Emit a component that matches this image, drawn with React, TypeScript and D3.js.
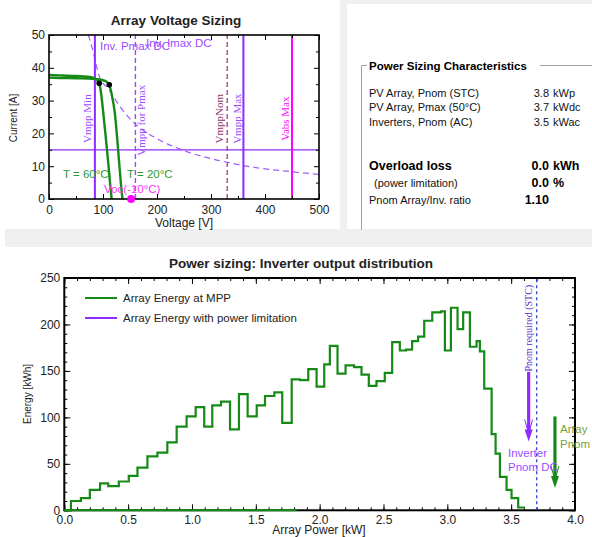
import React, { useEffect, useRef } from "react";
import * as d3 from "d3";

const W = 592;
const H = 537;
const SANS = "Liberation Sans, Arial, sans-serif";
const SERIF = "Liberation Serif, Times New Roman, serif";

// ---- Array Voltage Sizing (top left) ----
const voltMajor = [0, 100, 200, 300, 400, 500];
const voltMinor = [50, 150, 250, 350, 450];
const ampMajor = [0, 10, 20, 30, 40, 50];
const ampMinor = [5, 15, 25, 35, 45];

const iv60Volt = [0, 20, 50, 80, 87, 93, 97, 100.6, 105, 109.8, 113, 116];
const iv60Amp = [37.8, 37.7, 37.5, 37.1, 36.5, 35.3, 31.5, 26.1, 19, 10.9, 5, 0];
const iv20Volt = [0, 20, 50, 85, 100, 107, 111.7, 116, 122, 126, 130, 133, 136];
const iv20Amp = [37.0, 36.9, 36.8, 36.6, 36.2, 35.7, 34.8, 32, 26.1, 19, 10.9, 5, 0];
const mppVolt = [93, 111.7];
const mppAmp = [35.3, 34.8];
const vocCold = 152;

const pmaxVolt = [73, 80, 94, 110, 130, 160, 200, 246, 300, 330, 360, 400, 450, 500];
const pmaxAmp = [50, 46, 37, 33.6, 28.5, 22.8, 18.4, 15, 12.3, 11.2, 10.2, 9.2, 8.3, 7.5];
const invImaxDc = 15;
const vmppMin = 85;
const vmppForPmax = 160;
const vmppNom = 330;
const vmppMax = 360;
const vabsMax = 450;

// ---- Power Sizing Characteristics (top right) ----
const infoLabels = ["PV Array, Pnom (STC)", "PV Array, Pmax (50°C)", "Inverters, Pnom (AC)"];
const infoValues = ["3.8", "3.7", "3.5"];
const infoUnits = ["kWp", "kWdc", "kWac"];

// ---- Inverter output distribution (bottom) ----
const powerMajor = [0, 0.5, 1, 1.5, 2, 2.5, 3, 3.5, 4];
const energyMajor = [0, 50, 100, 150, 200, 250];
const binEdges = [
  0.052, 0.13, 0.2, 0.28, 0.344, 0.427, 0.505, 0.573, 0.651, 0.729, 0.807, 0.88, 0.958, 1.029,
  1.096, 1.159, 1.227, 1.298, 1.368, 1.436, 1.507, 1.572, 1.645, 1.707, 1.781, 1.846, 1.911,
  1.976, 2.036, 2.08, 2.14, 2.203, 2.27, 2.328, 2.385, 2.445, 2.51, 2.568, 2.628, 2.676, 2.724,
  2.771, 2.819, 2.882, 2.95, 2.981, 3.028, 3.08, 3.124, 3.177, 3.229, 3.255, 3.289, 3.347,
  3.378, 3.412, 3.464, 3.503, 3.555, 3.607,
];
const energyMpp = [
  10, 13, 22, 29, 26, 31, 37, 46, 58, 62, 73, 90, 101, 111, 90, 113, 117, 87, 125, 101, 113,
  123, 127, 94, 141, 140, 152, 133, 157, 177, 147, 156, 154, 146, 134, 139, 148, 181, 172, 173,
  182, 187, 204, 213, 214, 172, 218, 195, 213, 176, 182, 171, 131, 82, 61, 36, 22, 13, 3,
];
const mppBaselineEnd = 1.82;
const pnomRequired = 3.7;
const invArrowPower = 3.637;
const invArrowEnergy = [149, 74];
const arrayArrowPower = 3.843;
const arrayArrowEnergy = [101, 24];

const PURPLE = "#8f2bff";
const GREEN = "#168a16";

function frame(g: any, x: any, y: any, o: any) {
  const [x0, x1] = x.range();
  const [y0, y1] = y.range();
  const style = (sel: any) => {
    sel.select(".domain").remove();
    sel.selectAll("line").attr("stroke", "#000");
    sel.selectAll("text").attr("font-family", SANS).attr("font-size", o.fontSize).attr("fill", "#222");
  };
  g.append("g").attr("transform", `translate(0,${y0})`)
    .call(d3.axisBottom(x).tickValues(o.xMajor).tickSizeInner(-o.major).tickSizeOuter(0).tickPadding(o.xPad).tickFormat(o.xFmt))
    .call(style);
  g.append("g").attr("transform", `translate(0,${y0})`)
    .call(d3.axisBottom(x).tickValues(o.xMinor).tickSizeInner(-o.minor).tickSizeOuter(0).tickFormat(() => ""))
    .call(style);
  g.append("g").attr("transform", `translate(0,${y1})`)
    .call(d3.axisTop(x).tickValues(o.xMajor).tickSizeInner(-o.major).tickSizeOuter(0).tickFormat(() => ""))
    .call(style);
  g.append("g").attr("transform", `translate(0,${y1})`)
    .call(d3.axisTop(x).tickValues(o.xMinor).tickSizeInner(-o.minor).tickSizeOuter(0).tickFormat(() => ""))
    .call(style);
  g.append("g").attr("transform", `translate(${x0},0)`)
    .call(d3.axisLeft(y).tickValues(o.yMajor).tickSizeInner(-o.major).tickSizeOuter(0).tickPadding(o.yPad).tickFormat(o.yFmt))
    .call(style);
  g.append("g").attr("transform", `translate(${x0},0)`)
    .call(d3.axisLeft(y).tickValues(o.yMinor).tickSizeInner(-o.minor).tickSizeOuter(0).tickFormat(() => ""))
    .call(style);
  g.append("g").attr("transform", `translate(${x1},0)`)
    .call(d3.axisRight(y).tickValues(o.yMajor).tickSizeInner(-o.major).tickSizeOuter(0).tickFormat(() => ""))
    .call(style);
  g.append("g").attr("transform", `translate(${x1},0)`)
    .call(d3.axisRight(y).tickValues(o.yMinor).tickSizeInner(-o.minor).tickSizeOuter(0).tickFormat(() => ""))
    .call(style);
  g.append("rect").attr("x", x0).attr("y", y1).attr("width", x1 - x0).attr("height", y0 - y1)
    .attr("fill", "none").attr("stroke", "#000").attr("stroke-width", o.border);
}

function vText(g: any, x: number, y: number, text: string, color: string, size = 11) {
  g.append("text")
    .attr("transform", `translate(${x},${y}) rotate(-90)`)
    .attr("text-anchor", "middle").attr("dy", "0.35em")
    .attr("font-family", SERIF).attr("font-size", size).attr("fill", color)
    .text(text);
}

function drawVoltage(svg: any) {
  const x = d3.scaleLinear().domain([0, 500]).range([49, 319]);
  const y = d3.scaleLinear().domain([0, 50]).range([199, 35]);
  const g = svg.append("g");

  g.append("text").attr("x", 176).attr("y", 25).attr("text-anchor", "middle")
    .attr("font-family", SANS).attr("font-weight", "bold").attr("font-size", 13.5).attr("fill", "#222")
    .text("Array Voltage Sizing");

  g.append("clipPath").attr("id", "clipV").append("rect")
    .attr("x", 49).attr("y", 35).attr("width", 270).attr("height", 164);
  const p = g.append("g").attr("clip-path", "url(#clipV)");

  // inverter Pmax hyperbola
  const hyp = d3.line<number>().x((_, i) => x(pmaxVolt[i])).y((d) => y(d)).curve(d3.curveMonotoneX);
  p.append("path").attr("d", hyp(pmaxAmp)).attr("fill", "none")
    .attr("stroke", "#a05cff").attr("stroke-width", 1.2).attr("stroke-dasharray", "6,4");

  // Imax DC
  p.append("line").attr("x1", x(0)).attr("x2", x(500)).attr("y1", y(invImaxDc)).attr("y2", y(invImaxDc))
    .attr("stroke", PURPLE).attr("stroke-width", 1.3);

  const vline = (v: number, color: string, dash: string | null, w: number) => {
    p.append("line").attr("x1", x(v)).attr("x2", x(v)).attr("y1", y(0)).attr("y2", y(50))
      .attr("stroke", color).attr("stroke-width", w).attr("stroke-dasharray", dash);
  };
  vline(vmppMin, PURPLE, null, 2);
  vline(vmppForPmax, "#9a4dff", "5,3", 1.4);
  vline(vmppNom, "#a0508f", "5,3", 1.4);
  vline(vmppMax, PURPLE, null, 2);
  vline(vabsMax, "#ff00ff", null, 2);

  // I-V curves
  const iv = (vs: number[]) =>
    d3.line<number>().x((_, i) => x(vs[i])).y((d) => y(d)).curve(d3.curveMonotoneX);
  p.append("path").attr("d", iv(iv60Volt)(iv60Amp)).attr("fill", "none")
    .attr("stroke", GREEN).attr("stroke-width", 2.4);
  p.append("path").attr("d", iv(iv20Volt)(iv20Amp)).attr("fill", "none")
    .attr("stroke", GREEN).attr("stroke-width", 2.4);

  p.selectAll("circle.mpp").data(mppAmp).enter().append("circle")
    .attr("cx", (_: number, i: number) => x(mppVolt[i])).attr("cy", (d: number) => y(d))
    .attr("r", 2.8).attr("fill", "#000");

  // labels
  const lab = (tx: number, ty: number, t: string, c: string, size = 11.5) =>
    g.append("text").attr("x", tx).attr("y", ty).attr("font-family", SANS).attr("font-size", size)
      .attr("fill", c).text(t);
  lab(100, 50, "Inv. Pmax DC", "#9a4dff");
  lab(146, 47, "Inv. Imax DC", "#9a4dff");
  lab(63, 178, "T = 60°C", "#2e9b2e", 11.5);
  lab(127, 178, "T = 20°C", "#2e9b2e", 11.5);
  lab(104, 193, "Voc(-10°C)", "#ff33ff", 11.5);

  vText(g, x(vmppMin) - 8, y(24.5), "Vmpp Min", "#9a4dff");
  vText(g, x(vmppForPmax) + 6, y(24), "Vmpp for Pmax", "#9a4dff");
  vText(g, x(vmppNom) - 8, y(24.5), "VmppNom", "#8b3a6b");
  vText(g, x(vmppMax) - 6, y(24.5), "Vmpp Max", "#9a4dff");
  vText(g, x(vabsMax) - 7, y(24.5), "Vabs Max", "#ff00ff");

  frame(g, x, y, {
    xMajor: voltMajor, xMinor: voltMinor, yMajor: ampMajor, yMinor: ampMinor,
    xFmt: d3.format("d"), yFmt: d3.format("d"), major: 5, minor: 3,
    xPad: 6, yPad: 4, fontSize: 12, border: 1.6,
  });

  g.append("circle").attr("cx", x(vocCold)).attr("cy", y(0)).attr("r", 4).attr("fill", "#ff00ff");

  g.append("text").attr("x", 184).attr("y", 227).attr("text-anchor", "middle")
    .attr("font-family", SANS).attr("font-size", 12).attr("fill", "#222").text("Voltage [V]");
  g.append("text").attr("transform", `translate(13,118) rotate(-90)`).attr("text-anchor", "middle")
    .attr("dy", "0.35em").attr("font-family", SANS).attr("font-size", 10).attr("fill", "#222")
    .text("Current [A]");
}

function drawInfo(svg: any) {
  const g = svg.append("g").attr("font-family", SANS);
  // group box (etched)
  const box = g.append("g").attr("fill", "none");
  box.append("path").attr("d", "M367,65.5 H361.5 V230 M540,65.5 H592").attr("stroke", "#a0a0a0");
  box.append("path").attr("d", "M367,66.5 H362.5 V230 M540,66.5 H592").attr("stroke", "#fff");

  g.append("text").attr("x", 369).attr("y", 70).attr("font-weight", "bold").attr("font-size", 11.5)
    .attr("fill", "#000").text("Power Sizing Characteristics");

  const rowY = [97, 111, 126];
  infoLabels.forEach((t, i) => {
    g.append("text").attr("x", 369).attr("y", rowY[i]).attr("font-size", 11).attr("fill", "#111").text(t);
    g.append("text").attr("x", 549).attr("y", rowY[i]).attr("text-anchor", "end").attr("font-size", 11)
      .attr("fill", "#111").text(infoValues[i]);
    g.append("text").attr("x", 553).attr("y", rowY[i]).attr("font-size", 11).attr("fill", "#111")
      .text(infoUnits[i]);
  });

  const bold = (tx: number, ty: number, t: string, anchor = "start") =>
    g.append("text").attr("x", tx).attr("y", ty).attr("text-anchor", anchor).attr("font-weight", "bold")
      .attr("font-size", 12.5).attr("fill", "#000").text(t);
  bold(369, 170, "Overload loss");
  bold(549, 170, "0.0", "end");
  bold(553, 170, "kWh");
  g.append("text").attr("x", 374).attr("y", 187).attr("font-size", 11).attr("fill", "#111")
    .text("(power limitation)");
  bold(549, 187, "0.0", "end");
  bold(553, 187, "%");
  g.append("text").attr("x", 369).attr("y", 204).attr("font-size", 11).attr("fill", "#111")
    .text("Pnom Array/Inv. ratio");
  bold(549, 204, "1.10", "end");
}

function arrow(g: any, x: any, y: any, p: number, e: number[], color: string) {
  g.append("line").attr("x1", x(p)).attr("x2", x(p)).attr("y1", y(e[0])).attr("y2", y(e[1]) - 6)
    .attr("stroke", color).attr("stroke-width", 3.2);
  const tx = x(p);
  const ty = y(e[1]);
  g.append("path").attr("d", `M${tx - 4},${ty - 12} L${tx},${ty} L${tx + 4},${ty - 12} Z`).attr("fill", color);
  g.append("path").attr("d", `M${tx - 4},${ty - 22} L${tx},${ty - 8} L${tx + 4},${ty - 22}`)
    .attr("fill", "none").attr("stroke", color).attr("stroke-width", 1);
}

function drawDistribution(svg: any) {
  const x = d3.scaleLinear().domain([0, 4]).range([64.3, 575]);
  const y = d3.scaleLinear().domain([0, 250]).range([510.3, 278]);
  const g = svg.append("g");

  g.append("text").attr("x", 301).attr("y", 268).attr("text-anchor", "middle")
    .attr("font-family", SANS).attr("font-weight", "bold").attr("font-size", 13.5).attr("fill", "#222")
    .text("Power sizing: Inverter output distribution");

  frame(g, x, y, {
    xMajor: powerMajor, xMinor: d3.range(0, 4.001, 0.1), yMajor: energyMajor, yMinor: d3.range(0, 251, 10),
    xFmt: d3.format(".1f"), yFmt: d3.format("d"), major: 6, minor: 3,
    xPad: 5, yPad: 4, fontSize: 12, border: 2,
  });

  // pnom required
  g.append("line").attr("x1", x(pnomRequired)).attr("x2", x(pnomRequired)).attr("y1", y(0)).attr("y2", y(250))
    .attr("stroke", "#3344cc").attr("stroke-width", 1.3).attr("stroke-dasharray", "3,3");
  vText(g, x(pnomRequired) - 8, y(196), "Pnom required (STC)", "#5a2ccc", 10);

  // histogram step line
  const pts: [number, number][] = [[0, 0], [binEdges[0], 0]];
  energyMpp.forEach((v, i) => {
    pts.push([binEdges[i], v]);
    pts.push([binEdges[i + 1], v]);
  });
  const line = d3.line<[number, number]>().x((d) => x(d[0])).y((d) => y(d[1]));
  g.append("path").attr("d", line(pts)).attr("fill", "none").attr("stroke", GREEN).attr("stroke-width", 2.2)
    .attr("stroke-linejoin", "miter");
  g.append("path").attr("d", line([[0, 0], [mppBaselineEnd, 0]])).attr("stroke", GREEN).attr("stroke-width", 2);

  arrow(g, x, y, invArrowPower, invArrowEnergy, PURPLE);
  arrow(g, x, y, arrayArrowPower, arrayArrowEnergy, GREEN);

  const lab = (tx: number, ty: number, t: string, c: string) =>
    g.append("text").attr("x", tx).attr("y", ty).attr("font-family", SANS).attr("font-size", 11.5)
      .attr("fill", c).text(t);
  lab(508, 457, "Inverter", "#9a4dff");
  lab(508, 471, "Pnom DC", "#9a4dff");
  lab(560, 433, "Array", "#76a33a");
  lab(560, 448, "Pnom STC", "#76a33a");

  // legend
  const leg = [
    { t: "Array Energy at MPP", c: GREEN, yy: 298 },
    { t: "Array Energy with power limitation", c: PURPLE, yy: 318 },
  ];
  leg.forEach((d) => {
    g.append("line").attr("x1", 85).attr("x2", 117).attr("y1", d.yy).attr("y2", d.yy)
      .attr("stroke", d.c).attr("stroke-width", 2);
    lab(123, d.yy + 4, d.t, "#222");
  });

  g.append("text").attr("x", 319).attr("y", 534).attr("text-anchor", "middle")
    .attr("font-family", SANS).attr("font-size", 12).attr("fill", "#222").text("Array Power [kW]");
  g.append("text").attr("transform", `translate(27,394) rotate(-90)`).attr("text-anchor", "middle")
    .attr("dy", "0.35em").attr("font-family", SANS).attr("font-size", 10).attr("fill", "#222")
    .text("Energy [kWh]");
}

export default function App() {
  const ref = useRef<SVGSVGElement>(null);

  useEffect(() => {
    const svg = d3.select(ref.current);
    svg.selectAll("*").remove();
    svg.append("rect").attr("width", W).attr("height", H).attr("fill", "#fff");
    const gray = "#f0f0f0";
    svg.append("rect").attr("x", 340).attr("y", 0).attr("width", 7).attr("height", 230).attr("fill", gray);
    svg.append("rect").attr("x", 340).attr("y", 0).attr("width", 252).attr("height", 4).attr("fill", gray);
    svg.append("rect").attr("x", 5).attr("y", 229).attr("width", 587).attr("height", 18).attr("fill", gray);
    drawVoltage(svg);
    drawInfo(svg);
    drawDistribution(svg);
  }, []);

  return <svg ref={ref} width={W} height={H} style={{ position: "absolute", left: 0, top: 0 }} />;
}
